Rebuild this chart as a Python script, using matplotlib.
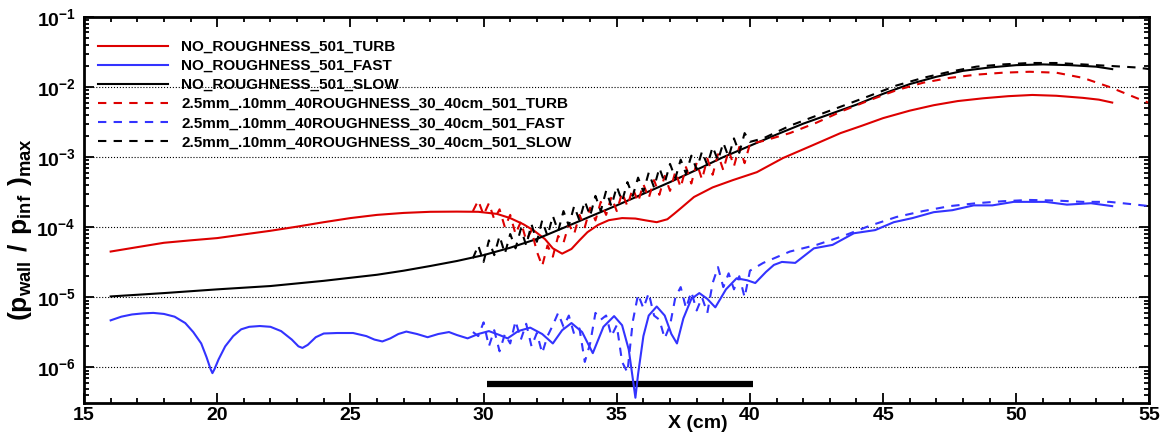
import numpy as np
import matplotlib.pyplot as plt
from matplotlib.ticker import MultipleLocator, LogLocator, NullFormatter, FuncFormatter

plt.rcParams['font.family'] = 'Liberation Sans'
plt.rcParams['font.weight'] = 'bold'
plt.rcParams['mathtext.fontset'] = 'custom'
plt.rcParams['mathtext.rm'] = 'Liberation Sans:bold'
plt.rcParams['mathtext.bf'] = 'Liberation Sans:bold'
plt.rcParams['mathtext.default'] = 'rm'

RED = '#dd0000'
BLUE = '#3333ff'

# smooth wall, turbulent-like mode
x_turb = [16.0, 17.0, 18.0, 19.0, 20.0, 21.0, 22.0, 23.0, 24.0, 25.0, 26.0, 27.0, 28.0, 29.0,
          29.8, 30.5, 31.0, 31.5, 31.9, 32.3, 32.6, 32.95, 33.3, 33.6, 33.9, 34.3, 34.7, 35.2,
          35.7, 36.1, 36.5, 36.9, 37.15, 37.4, 37.9, 38.6, 39.36, 40.26, 41.24, 42.36, 43.4,
          44.2, 45.0, 46.0, 46.9, 47.8, 48.75, 49.7, 50.6, 51.5, 52.5, 53.1, 53.6]
p_turb = [4.5e-5, 5.2e-5, 6.0e-5, 6.5e-5, 7.0e-5, 7.9e-5, 8.9e-5, 1.02e-4, 1.18e-4, 1.35e-4,
          1.5e-4, 1.6e-4, 1.66e-4, 1.67e-4,
          1.66e-4, 1.55e-4, 1.35e-4, 1.1e-4, 8.9e-5, 6.8e-5, 5.0e-5, 4.2e-5, 4.9e-5, 6.5e-5,
          8.5e-5, 1.08e-4, 1.26e-4, 1.35e-4,
          1.33e-4, 1.25e-4, 1.18e-4, 1.3e-4, 1.55e-4, 1.86e-4, 2.7e-4, 3.7e-4, 4.7e-4, 6.1e-4,
          9.7e-4, 1.48e-3, 2.2e-3,
          2.8e-3, 3.6e-3, 4.6e-3, 5.5e-3, 6.3e-3, 6.9e-3, 7.4e-3, 7.7e-3, 7.5e-3, 7.0e-3,
          6.6e-3, 6.0e-3]

# smooth wall, fast mode
x_fast = [16.0, 16.4, 16.8, 17.2, 17.6, 18.0, 18.4, 18.8, 19.1, 19.4, 19.6, 19.75, 19.82,
          19.9, 20.05, 20.3, 20.6, 20.9, 21.2, 21.6, 22.0, 22.4, 22.8, 23.05, 23.2, 23.4, 23.7,
          24.0, 24.5, 25.1, 25.6, 25.9, 26.2, 26.5, 26.8, 27.1, 27.5, 27.9,
          28.3, 28.7, 29.0, 29.4, 29.8, 30.2, 30.6, 30.9, 31.3, 31.75, 32.2, 32.6, 32.95, 33.3,
          33.7, 34.1, 34.5, 34.9, 35.2, 35.45, 35.6, 35.7, 35.8, 36.0, 36.2, 36.5, 36.8, 37.05,
          37.26, 37.5, 37.8, 38.1, 38.4, 38.7, 39.1, 39.5, 39.9, 40.2, 40.6, 40.9, 41.2, 41.7,
          42.4, 43.1, 43.9, 44.7, 45.4, 46.1, 46.9, 47.6, 48.4, 49.1, 49.9, 51.1, 51.9, 52.8, 53.6]
p_fast = [4.7e-6, 5.3e-6, 5.7e-6, 5.9e-6, 6.0e-6, 5.8e-6, 5.3e-6, 4.3e-6, 3.2e-6, 2.2e-6,
          1.4e-6, 9.5e-7, 8.3e-7,
          9.5e-7, 1.3e-6, 2.0e-6, 2.8e-6, 3.5e-6, 3.8e-6, 3.9e-6, 3.8e-6, 3.3e-6, 2.5e-6, 2.0e-6,
          1.9e-6, 2.1e-6, 2.7e-6,
          3.05e-6, 3.1e-6, 3.1e-6, 2.8e-6, 2.5e-6, 2.35e-6, 2.6e-6, 3.0e-6, 3.25e-6, 3.0e-6,
          2.7e-6,
          3.0e-6, 3.2e-6, 2.9e-6, 2.6e-6, 3.0e-6, 3.3e-6, 2.9e-6, 2.6e-6, 3.3e-6, 3.7e-6,
          3.0e-6, 2.2e-6, 3.4e-6, 4.3e-6,
          3.2e-6, 1.6e-6, 3.8e-6, 5.4e-6, 4.0e-6, 1.8e-6, 7.0e-7, 3.7e-7, 8.0e-7, 2.8e-6,
          5.5e-6, 7.4e-6, 5.5e-6, 3.0e-6,
          2.2e-6, 5.0e-6, 9.5e-6, 1.15e-5, 9.5e-6, 7.2e-6, 1.3e-5, 1.87e-5, 1.75e-5, 1.6e-5,
          2.3e-5, 2.9e-5, 3.2e-5, 3.1e-5,
          5.0e-5, 5.6e-5, 8.2e-5, 9.1e-5, 1.18e-4, 1.35e-4, 1.64e-4, 1.75e-4, 2.05e-4, 2.05e-4,
          2.3e-4, 2.3e-4, 2.1e-4, 2.2e-4, 2.0e-4]

# smooth wall, slow mode
x_slow = [16, 18, 20, 22, 24, 26, 27, 28, 29, 30, 31, 32, 33, 34, 35, 36, 37, 38, 39, 40,
          41, 42, 43, 44, 45, 46, 47, 48, 49, 50, 51, 52, 53, 53.6]
p_slow = [1.03e-5, 1.15e-5, 1.3e-5, 1.45e-5, 1.72e-5, 2.1e-5, 2.4e-5, 2.8e-5, 3.3e-5, 4.0e-5,
          5.1e-5, 6.8e-5, 9.8e-5, 1.42e-4, 2.05e-4, 3.0e-4, 4.4e-4, 6.6e-4, 1.0e-3, 1.45e-3,
          2.1e-3, 3.0e-3, 4.1e-3, 5.6e-3, 8.0e-3, 1.1e-2, 1.4e-2, 1.7e-2, 1.9e-2, 2.05e-2,
          2.1e-2, 2.05e-2, 1.95e-2, 1.8e-2]

# rough wall: roughness patch 30-40 cm, then downstream
x_rough = [29.6, 29.8, 30.0, 30.2, 30.4, 30.6, 30.8, 31.0, 31.2, 31.4, 31.6, 31.8, 32.0, 32.2,
           32.4, 32.6, 32.8, 33.0, 33.2, 33.4, 33.6, 33.8, 34.0, 34.2, 34.4, 34.6, 34.8, 35.0,
           35.2, 35.4, 35.6, 35.8, 36.0, 36.2, 36.4, 36.6, 36.8, 37.0, 37.2, 37.4, 37.6, 37.8,
           38.0, 38.2, 38.4, 38.6, 38.8, 39.0, 39.2, 39.4, 39.6, 39.8, 40.0]
x_down = [40.5, 41.5, 42.5, 43.5, 44.5, 45.5, 46.5, 47.5, 48.5, 49.5, 50.5, 51.5, 52.5, 53.5,
          54.5, 55.0]

p_turb_rough = [1.7e-4, 2.4e-4, 1.5e-4, 2.2e-4, 1.3e-4, 1.8e-4, 1.0e-4, 1.5e-4, 8.0e-5, 1.2e-4,
                6.5e-5, 9.0e-5, 4.5e-5, 2.8e-5, 5.5e-5, 3.8e-5, 7.5e-5, 6.0e-5, 1.1e-4, 8.0e-5,
                1.5e-4, 1.0e-4, 1.9e-4, 1.25e-4, 2.3e-4, 1.5e-4, 2.7e-4, 1.7e-4, 3.1e-4, 2.0e-4,
                3.6e-4, 2.3e-4, 4.1e-4, 2.6e-4, 4.7e-4, 2.9e-4, 5.4e-4, 3.3e-4, 6.2e-4, 3.7e-4,
                7.2e-4, 4.2e-4, 8.3e-4, 4.8e-4, 9.5e-4, 5.6e-4, 1.1e-3, 6.5e-4, 1.25e-3, 7.4e-4,
                1.4e-3, 8.2e-4, 1.55e-3]
p_turb_down = [1.7e-3, 2.2e-3, 3.1e-3, 4.6e-3, 6.5e-3, 9.0e-3, 1.15e-2, 1.35e-2, 1.5e-2,
               1.6e-2, 1.65e-2, 1.6e-2, 1.35e-2, 1.0e-2, 7.0e-3, 5.9e-3]

p_fast_rough = [3.2e-6, 2.8e-6, 4.4e-6, 2.0e-6, 3.4e-6, 1.7e-6, 3.0e-6, 2.2e-6, 4.6e-6, 2.5e-6,
                4.2e-6, 2.0e-6, 3.1e-6, 1.6e-6, 2.8e-6, 4.0e-6, 6.0e-6, 3.8e-6, 5.5e-6, 3.0e-6,
                3.6e-6, 1.2e-6, 2.2e-6, 6.0e-6, 4.8e-6, 5.5e-6, 2.8e-6, 4.0e-6, 1.2e-6, 8.5e-7,
                4.5e-6, 1.1e-5, 7.0e-6, 1.15e-5, 5.5e-6, 4.8e-6, 2.6e-6, 4.0e-6, 1.0e-5, 1.4e-5,
                7.0e-6, 1.2e-5, 6.5e-6, 1.0e-5, 6.0e-6, 1.6e-5, 2.7e-5, 1.4e-5, 2.2e-5, 1.3e-5,
                2.0e-5, 1.0e-5, 2.4e-5]
p_fast_down = [3.1e-5, 4.5e-5, 5.6e-5, 7.5e-5, 1.05e-4, 1.4e-4, 1.7e-4, 2.0e-4, 2.2e-4,
               2.35e-4, 2.45e-4, 2.4e-4, 2.3e-4, 2.3e-4, 2.1e-4, 2.0e-4]

p_slow_rough = [3.6e-5, 5.5e-5, 3.2e-5, 6.5e-5, 4.0e-5, 7.5e-5, 4.2e-5, 8.0e-5, 5.0e-5, 9.5e-5,
                5.5e-5, 1.1e-4, 6.2e-5, 1.25e-4, 7.5e-5, 1.45e-4, 8.8e-5, 1.7e-4, 1.05e-4, 2.0e-4,
                1.25e-4, 2.35e-4, 1.45e-4, 2.8e-4, 1.7e-4, 3.3e-4, 2.0e-4, 3.8e-4, 2.35e-4, 4.4e-4,
                2.8e-4, 5.1e-4, 3.2e-4, 6.0e-4, 3.7e-4, 7.0e-4, 4.3e-4, 8.0e-4, 5.0e-4, 9.2e-4,
                5.8e-4, 1.05e-3, 6.7e-4, 1.2e-3, 7.7e-4, 1.4e-3, 9.0e-4, 1.6e-3, 1.0e-3, 1.85e-3,
                1.15e-3, 2.2e-3, 1.65e-3]
p_slow_down = [1.85e-3, 2.8e-3, 3.9e-3, 5.4e-3, 7.5e-3, 1.05e-2, 1.35e-2, 1.65e-2, 1.95e-2,
               2.1e-2, 2.2e-2, 2.2e-2, 2.1e-2, 2.0e-2, 1.9e-2, 1.8e-2]

# roughness strip marker
strip_x = [30.13, 40.1]
strip_y = 5.9e-7

fig = plt.figure(figsize=(11.67, 4.33), dpi=100)
ax = fig.add_axes([0.072, 0.069, 0.913, 0.892])

ax.plot(strip_x, [strip_y, strip_y], color='black', lw=4.5, solid_capstyle='butt')

dash = (0, (4, 3.5))
ax.plot(x_turb, p_turb, color=RED, lw=1.5, label='NO_ROUGHNESS_501_TURB')
ax.plot(x_fast, p_fast, color=BLUE, lw=1.5, label='NO_ROUGHNESS_501_FAST')
ax.plot(x_slow, p_slow, color='black', lw=1.5, label='NO_ROUGHNESS_501_SLOW')
ax.plot(x_rough + x_down, p_turb_rough + p_turb_down, color=RED, lw=1.5, ls=dash,
        label='2.5mm_.10mm_40ROUGHNESS_30_40cm_501_TURB')
ax.plot(x_rough + x_down, p_fast_rough + p_fast_down, color=BLUE, lw=1.5, ls=dash,
        label='2.5mm_.10mm_40ROUGHNESS_30_40cm_501_FAST')
ax.plot(x_rough + x_down, p_slow_rough + p_slow_down, color='black', lw=1.5, ls=dash,
        label='2.5mm_.10mm_40ROUGHNESS_30_40cm_501_SLOW')

ax.set_yscale('log')
ax.set_xlim(15, 55)
ax.set_ylim(3.1e-7, 1e-1)

ax.xaxis.set_major_locator(MultipleLocator(5))
ax.xaxis.set_minor_locator(MultipleLocator(1))
ax.yaxis.set_major_locator(LogLocator(base=10, numticks=20))
ax.yaxis.set_minor_locator(LogLocator(base=10, subs=np.arange(2, 10), numticks=20))
ax.yaxis.set_minor_formatter(NullFormatter())
ax.yaxis.set_major_formatter(FuncFormatter(lambda v, pos: r'$10^{%d}$' % round(np.log10(v))))

ax.tick_params(which='both', direction='in', top=True, right=True, width=1.3)
ax.tick_params(which='major', length=7, labelsize=14)
ax.tick_params(which='minor', length=3.5)
ax.tick_params(axis='x', pad=3)
ax.tick_params(axis='y', pad=6)
for s in ax.spines.values():
    s.set_linewidth(2)

ax.yaxis.grid(True, which='major', ls=':', color='black', lw=0.8)

ax.set_ylabel(r'$(p_{wall}\ /\ p_{inf}\ )_{max}$', fontsize=19)
ax.yaxis.set_label_coords(-0.047, 0.45)
ax.set_xlabel('X (cm)', fontsize=14, fontweight='bold', va='top')
ax.xaxis.set_label_coords(0.576, -0.03)

ax.legend(loc='upper left', bbox_to_anchor=(0.013, 0.94), frameon=False, fontsize=11,
          handlelength=4.6, handletextpad=0.85, labelspacing=0.33, borderpad=0, borderaxespad=0)

fig.savefig('out.png', dpi=100)
